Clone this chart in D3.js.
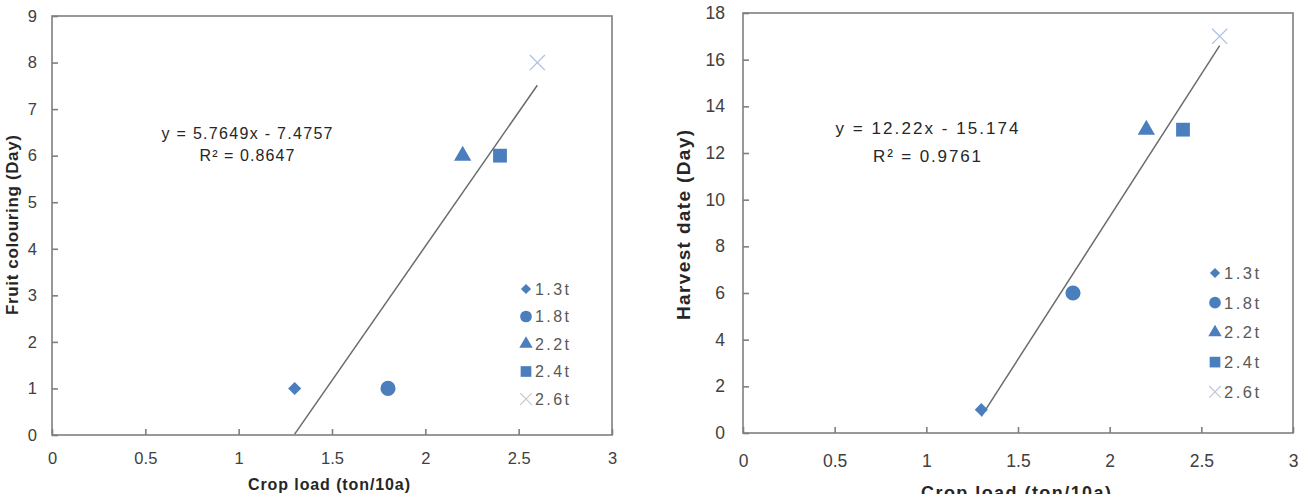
<!DOCTYPE html>
<html>
<head>
<meta charset="utf-8">
<script src="https://d3js.org/d3.v7.min.js"></script>
<style>
  body { margin: 0; background: #fff; }
  text { font-family: "Liberation Sans", Arial, sans-serif; }
</style>
</head>
<body>
<div id="chart"></div>
<script>
// data
const cropLoads = [1.3, 1.8, 2.2, 2.4, 2.6];
const seriesNames = ["1.3t", "1.8t", "2.2t", "2.4t", "2.6t"];
const colouringDays = [1, 1, 6, 6, 8];
const harvestDays = [1, 6, 13, 13, 17];
const xTicks = [0, 0.5, 1, 1.5, 2, 2.5, 3];
const colouringTicks = [0, 1, 2, 3, 4, 5, 6, 7, 8, 9];
const harvestTicks = [0, 2, 4, 6, 8, 10, 12, 14, 16, 18];
const colouringFit = [5.7649, -7.4757];
const harvestFit = [12.22, -15.174];
const colouringEq = ["y = 5.7649x  - 7.4757", "R² = 0.8647"];
const harvestEq = ["y = 12.22x  - 15.174", "R² = 0.9761"];

const W = 1298, H = 494;
const blue = "#4a7ebd", lightBlue = "#a9c3e6";
const symbols = [d3.symbolDiamond2, d3.symbolCircle, d3.symbolTriangle, d3.symbolSquare, d3.symbolX];
const symSize = [110, 180, 130, 190, 150];

const svg = d3.select("#chart").append("svg")
    .attr("width", W).attr("height", H);

function drawChart(o) {
    const g = svg.append("g");
    const x = d3.scaleLinear().domain([0, 3]).range([o.left, o.right]);
    const y = d3.scaleLinear().domain([0, d3.max(o.yTicks)]).range([o.bottom, o.top]);

    // frame
    g.append("rect")
        .attr("x", o.left).attr("y", o.top)
        .attr("width", o.right - o.left).attr("height", o.bottom - o.top)
        .attr("fill", "none").attr("stroke", "#7f7f7f").attr("stroke-width", 1.6);

    const xa = g.append("g").attr("transform", `translate(0,${o.bottom})`)
        .call(d3.axisBottom(x).tickValues(xTicks).tickFormat(d3.format("")).tickSizeInner(-6).tickSizeOuter(0).tickPadding(o.xPad));
    const ya = g.append("g").attr("transform", `translate(${o.left},0)`)
        .call(d3.axisLeft(y).tickValues(o.yTicks).tickSizeInner(-6).tickSizeOuter(0).tickPadding(o.yPad));
    [xa, ya].forEach(a => {
        a.select(".domain").remove();
        a.selectAll(".tick line").attr("stroke", "#7f7f7f").attr("stroke-width", 1.6);
        a.attr("font-size", o.tickFont).attr("font-family", "Liberation Sans, Arial, sans-serif");
        a.selectAll(".tick text").attr("fill", "#404040");
    });

    // axis titles (lengths fitted to the picture)
    g.append("text")
        .attr("x", o.xTitleX).attr("y", o.xTitleY)
        .attr("text-anchor", "middle").attr("font-weight", "bold")
        .attr("font-size", o.xTitleFont).attr("fill", "#262626")
        .attr("textLength", o.xTitleLen).attr("lengthAdjust", "spacing")
        .text("Crop load  (ton/10a)");
    g.append("text")
        .attr("transform", `translate(${o.yTitleX},${o.yTitleY}) rotate(-90)`)
        .attr("text-anchor", "middle").attr("dy", "0.35em").attr("font-weight", "bold")
        .attr("font-size", o.yTitleFont).attr("fill", "#262626")
        .attr("textLength", o.yTitleLen).attr("lengthAdjust", "spacing")
        .text(o.yTitle);

    // trend line, clipped to the plot
    const x0 = Math.max(d3.min(cropLoads), -o.fit[1] / o.fit[0]);
    const x1 = d3.max(cropLoads);
    g.append("line")
        .attr("x1", x(x0)).attr("y1", y(o.fit[0] * x0 + o.fit[1]))
        .attr("x2", x(x1)).attr("y2", y(o.fit[0] * x1 + o.fit[1]))
        .attr("stroke", "#6b6b6b").attr("stroke-width", 1.5);

    // equation
    o.eq.forEach((t, i) => g.append("text")
        .attr("text-anchor", "middle")
        .attr("font-size", o.eqFont).attr("fill", "#262626")
        .attr("x", o.eqX).attr("y", o.eqY + i * o.eqGap)
        .attr("textLength", o.eqLen[i]).attr("lengthAdjust", "spacing")
        .text(t));

    // points
    cropLoads.forEach((v, i) => {
        g.append("path")
            .attr("transform", `translate(${x(v)},${y(o.values[i])})`)
            .attr("d", d3.symbol(symbols[i], symSize[i])())
            .attr("fill", i === 4 ? "none" : blue)
            .attr("stroke", i === 4 ? lightBlue : "none")
            .attr("stroke-width", 1.3);
    });

    // legend
    seriesNames.forEach((s, i) => {
        const ly = o.legY + i * o.legStep;
        g.append("path")
            .attr("transform", `translate(${o.legX},${ly})`)
            .attr("d", d3.symbol(symbols[i], symSize[i] * 0.6)())
            .attr("fill", i === 4 ? "none" : blue)
            .attr("stroke", i === 4 ? "#c0c8d4" : "none")
            .attr("stroke-width", 1.2);
        g.append("text")
            .attr("x", o.legX + 9).attr("y", ly).attr("dy", "0.36em")
            .attr("font-size", o.legFont).attr("fill", "#595959")
            .attr("textLength", o.legLen).attr("lengthAdjust", "spacing")
            .text(s);
    });
}

drawChart({
    left: 52, right: 612, top: 16, bottom: 435,
    yTicks: colouringTicks, values: colouringDays, fit: colouringFit, eq: colouringEq,
    yTitle: "Fruit colouring (Day)",
    xPad: 17, yPad: 15, tickFont: 16.5,
    xTitleFont: 16, xTitleLen: 162, xTitleX: 329, xTitleY: 490,
    yTitleFont: 17, yTitleLen: 180, yTitleX: 12, yTitleY: 225,
    eqFont: 16, eqLen: [171, 95], eqX: 247, eqY: 139, eqGap: 22,
    legX: 526, legY: 289, legStep: 27.5, legFont: 16, legLen: 34
});
drawChart({
    left: 743, right: 1293, top: 13, bottom: 433,
    yTicks: harvestTicks, values: harvestDays, fit: harvestFit, eq: harvestEq,
    yTitle: "Harvest  date  (Day)",
    xPad: 22, yPad: 18, tickFont: 17.5,
    xTitleFont: 18, xTitleLen: 190, xTitleX: 1016, xTitleY: 499,
    yTitleFont: 19, yTitleLen: 190, yTitleX: 683, yTitleY: 225,
    eqFont: 17, eqLen: [183, 108], eqX: 927, eqY: 134, eqGap: 28,
    legX: 1215, legY: 273, legStep: 29.7, legFont: 16.5, legLen: 35
});
</script>
</body>
</html>
